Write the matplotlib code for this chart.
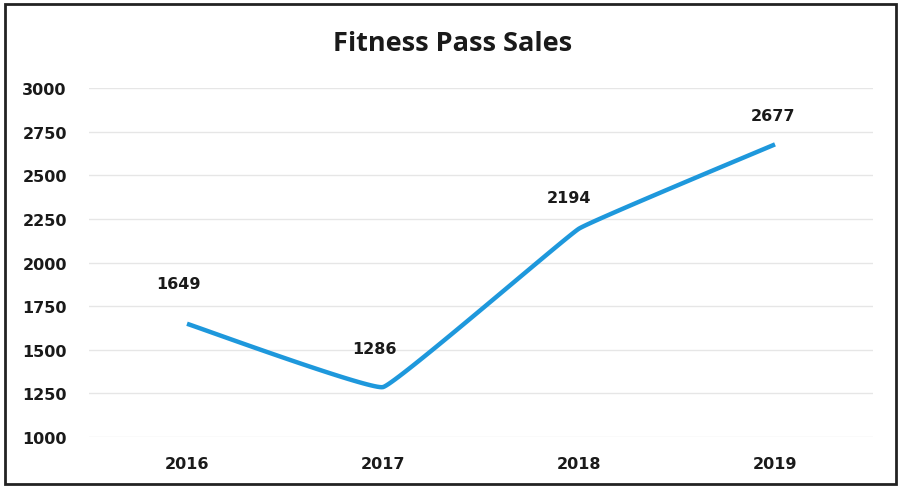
import numpy as np
import matplotlib
matplotlib.use("Agg")
import matplotlib.pyplot as plt
from matplotlib.patches import Rectangle

years = ["2016", "2017", "2018", "2019"]
sales = [1649, 1286, 2194, 2677]
y_ticks = [1000, 1250, 1500, 1750, 2000, 2250, 2500, 2750, 3000]

# label placement relative to each point (points)
label_offsets = [(-6.5, 29), (-6.5, 28), (-7, 22.5), (-1.5, 21)]

plt.rcParams['font.family'] = ['DejaVu Sans']


def smooth_path(x, y, k=1 / 30, n=40):
    """Lightly rounded curve through the points (cubic Bezier segments)."""
    x = np.asarray(x, float)
    y = np.asarray(y, float)
    px = np.concatenate([[2 * x[0] - x[1]], x, [2 * x[-1] - x[-2]]])
    py = np.concatenate([[2 * y[0] - y[1]], y, [2 * y[-1] - y[-2]]])
    xs, ys = [], []
    t = np.linspace(0, 1, n)
    for i in range(1, len(px) - 2):
        p0, p1, p2, p3 = (np.array([px[j], py[j]]) for j in range(i - 1, i + 3))
        b1 = p1 + (p2 - p0) * k
        b2 = p2 - (p3 - p1) * k
        pts = ((1 - t) ** 3)[:, None] * p1 + (3 * (1 - t) ** 2 * t)[:, None] * b1 \
            + (3 * (1 - t) * t ** 2)[:, None] * b2 + (t ** 3)[:, None] * p2
        xs.append(pts[:, 0])
        ys.append(pts[:, 1])
    return np.concatenate(xs), np.concatenate(ys)


fig = plt.figure(figsize=(8.99, 4.89), dpi=100)
ax = fig.add_axes([89 / 899, 1 - 438 / 489, 784 / 899, 349 / 489])

xpos = np.arange(len(years))
sx, sy = smooth_path(xpos, sales)
ax.plot(sx, sy, color="#1E98DC", lw=3.2, solid_capstyle="butt",
        solid_joinstyle="round", zorder=3)

for xi, v, (dx, dy) in zip(xpos, sales, label_offsets):
    ax.annotate(str(v), (xi, v), xytext=(dx, dy), textcoords="offset points",
                ha="center", va="center", fontsize=11.5, fontweight="bold",
                color="#1a1a1a")

ax.set_xlim(-0.5, len(years) - 0.5)
ax.set_ylim(y_ticks[0], y_ticks[-1])
ax.set_yticks(y_ticks)
ax.set_xticks(xpos)
ax.set_xticklabels(years)
ax.grid(axis="y", color="#E6E6E6", lw=1)
ax.set_axisbelow(True)
for s in ax.spines.values():
    s.set_visible(False)
ax.tick_params(length=0, labelsize=11.5, colors="#1a1a1a")
ax.tick_params(axis="y", pad=16)
ax.tick_params(axis="x", pad=14)
for lab in ax.get_xticklabels() + ax.get_yticklabels():
    lab.set_fontweight("bold")

fig.text(453 / 899, 1 - 44 / 489, "Fitness Pass Sales", ha="center", va="center",
         fontsize=19.5, fontweight="bold", color="#1a1a1a", family="Open Sans")

fig.patches.append(Rectangle((5 / 899, 4 / 489), 891 / 899, 480 / 489,
                             transform=fig.transFigure, fill=False,
                             edgecolor="#222222", lw=2))

fig.savefig("out.png", dpi=100)
